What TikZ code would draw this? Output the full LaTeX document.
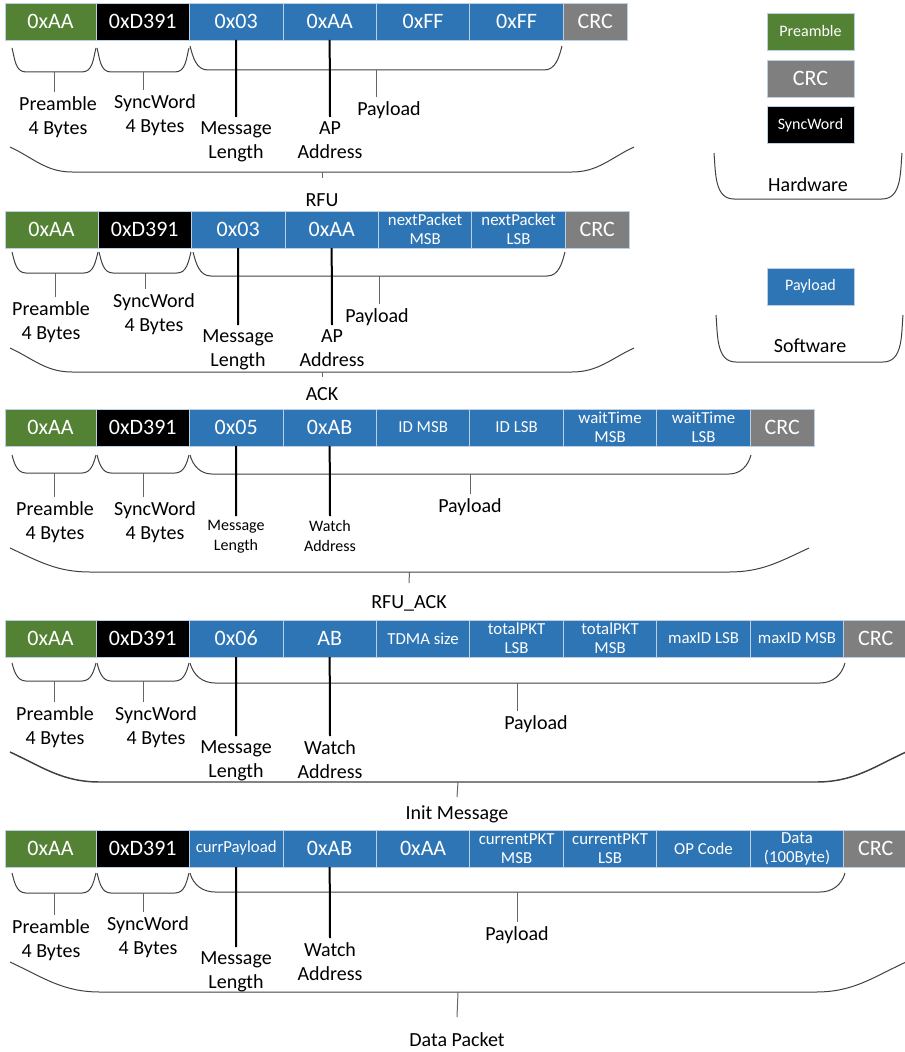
\documentclass[tikz,border=0pt]{standalone}
\usepackage{fontspec}
\setmainfont{Carlito}
\usepackage{xcolor}
\usepackage{tikz}
\usetikzlibrary{positioning}
\definecolor{pregreen}{RGB}{84,130,53}
\definecolor{loadblue}{RGB}{46,117,182}
\definecolor{crcgray}{RGB}{127,127,127}
\definecolor{sepline}{RGB}{189,207,226}
\tikzset{
    field/.style={rectangle, draw=sepline, line width=0.6pt, minimum width=70.1pt, minimum height=27.75pt, inner sep=1pt, outer sep=0pt, text=white, align=center, font=\fontsize{16.5}{18}\selectfont},
    pre/.style={field, fill=pregreen, minimum width=68.25pt},
    sync/.style={field, fill=black},
    load/.style={field, fill=loadblue},
    crc/.style={field, fill=crcgray, minimum width=48pt},
    smalltext/.style={font=\fontsize{12.6}{14.2}\selectfont},
    keybox/.style={field, minimum width=65.25pt},
    keytext/.style={font=\fontsize{12}{14}\selectfont},
    lbl/.style={anchor=north, align=center, inner sep=3pt, font=\fontsize{15}{18}\selectfont},
    sublbl/.style={lbl, font=\fontsize{12}{15}\selectfont},
    rowname/.style={inner sep=1pt, font=\fontsize{15}{18}\selectfont},
    brace/.style={draw=black!75, line width=0.75pt, lcurve/.style={out=-75,in=180}, rcurve/.style={out=0,in=-105}},
    bigbrace/.style={brace, lcurve/.style={out=-25,in=180}, rcurve/.style={out=0,in=-155}},
    sidebrace/.style={brace, lcurve/.style={out=-85,in=180}, rcurve/.style={out=0,in=-95}},
    stub/.style={draw=black!60, line width=0.75pt},
    pointer/.style={draw=black, line width=1.5pt}
}
% brace under a group of fields, names its bottom middle
\newcommand{\fieldbrace}[7][]{%
    \draw[brace,#1] (#2,#4) to[lcurve] ({#2+#6},#5) -- ({#3-#6},#5) to[rcurve] (#3,#4);
    \coordinate (#7) at ({(#2+#3)/2},#5);
}

\begin{document}
\begin{tikzpicture}[x=0.75pt, y=0.75pt]
    \useasboundingbox (0,0) rectangle (904,-1052);

    % RFU packet
    \node[pre, anchor=north west] (r1pre) at (5,-3) {0xAA};
    \node[sync, right=0pt of r1pre] (r1sync) {0xD391};
    \node[load, right=0pt of r1sync] (r1len) {0x03};
    \node[load, right=0pt of r1len] (r1addr) {0xAA};
    \node[load, right=0pt of r1addr] (r1ff) {0xFF};
    \node[load, right=0pt of r1ff] (r1fe) {0xFF};
    \node[crc, right=0pt of r1fe] (r1crc) {CRC};
    \fieldbrace{12}{96}{-48}{-72}{14}{r1pb}
    \fieldbrace{97}{189}{-48}{-72}{14}{r1sb}
    \fieldbrace{190}{562}{-46}{-70}{18}{r1lb}
    \fieldbrace[bigbrace]{10}{634}{-147}{-172}{62}{r1all}
    \node[lbl] (r1prel) at (58,-92) {Preamble\\4 Bytes};
    \node[lbl] (r1syncl) at (155,-90) {SyncWord\\4 Bytes};
    \node[lbl] (r1loadl) at (389,-97) {Payload};
    \node[lbl] (r1lenl) at (236,-117) {Message\\Length};
    \node[lbl] (r1addrl) at (330,-117) {AP\\Address};
    \coordinate (r1end) at (322,-178);
    \node[rowname] (rfu) at (322,-200) {RFU};
    \draw[stub] (r1pb) -- (r1pb |- r1prel.north);
    \draw[stub] (r1sb) -- (r1sb |- r1syncl.north);
    \draw[stub] (r1lb) -- (r1lb |- r1loadl.north);
    \draw[pointer] (r1len.south) -- (r1lenl.north);
    \draw[pointer] (r1addr.south) -- (r1addrl.north);
    \draw[stub] (r1all) -- (r1end);

    % ACK packet
    \node[pre, anchor=north west, minimum width=69.75pt] (r2pre) at (5,-211) {0xAA};
    \node[sync, right=0pt of r2pre] (r2sync) {0xD391};
    \node[load, right=0pt of r2sync] (r2len) {0x03};
    \node[load, right=0pt of r2len] (r2addr) {0xAA};
    \node[load, smalltext, right=0pt of r2addr] (r2nxm) {nextPacket\\MSB};
    \node[load, smalltext, right=0pt of r2nxm] (r2nxl) {nextPacket\\LSB};
    \node[crc, right=0pt of r2nxl] (r2crc) {CRC};
    \fieldbrace{12}{98}{-252}{-273}{14}{r2pb}
    \fieldbrace{99}{191}{-252}{-273}{14}{r2sb}
    \fieldbrace{193}{565}{-252}{-276}{18}{r2lb}
    \fieldbrace[bigbrace]{10}{634}{-348}{-372}{62}{r2all}
    \node[lbl] (r2prel) at (51,-297) {Preamble\\4 Bytes};
    \node[lbl] (r2syncl) at (154,-289) {SyncWord\\4 Bytes};
    \node[lbl] (r2loadl) at (377,-304) {Payload};
    \node[lbl] (r2lenl) at (238,-325) {Message\\Length};
    \node[lbl] (r2addrl) at (332,-325) {AP\\Address};
    \coordinate (r2end) at (322,-377);
    \node[rowname] (ack) at (322,-394) {ACK};
    \draw[stub] (r2pb) -- (r2pb |- r2prel.north);
    \draw[stub] (r2sb) -- (r2sb |- r2syncl.north);
    \draw[stub] (r2lb) -- (r2lb |- r2loadl.north);
    \draw[pointer] (r2len.south) -- (r2lenl.north);
    \draw[pointer] (r2addr.south) -- (r2addrl.north);
    \draw[stub] (r2all) -- (r2end);

    % RFU_ACK packet
    \node[pre, anchor=north west] (r3pre) at (5,-409) {0xAA};
    \node[sync, right=0pt of r3pre] (r3sync) {0xD391};
    \node[load, right=0pt of r3sync] (r3len) {0x05};
    \node[load, right=0pt of r3len] (r3addr) {0xAB};
    \node[load, smalltext, right=0pt of r3addr] (r3idm) {ID MSB};
    \node[load, smalltext, right=0pt of r3idm] (r3idl) {ID LSB};
    \node[load, smalltext, right=0pt of r3idl] (r3wtm) {waitTime\\MSB};
    \node[load, smalltext, right=0pt of r3wtm] (r3wtl) {waitTime\\LSB};
    \node[crc, right=0pt of r3wtl] (r3crc) {CRC};
    \fieldbrace{12}{96}{-455}{-473}{14}{r3pb}
    \fieldbrace{97}{189}{-455}{-473}{14}{r3sb}
    \fieldbrace{190}{751}{-455}{-474}{22}{r3lb}
    \fieldbrace[bigbrace]{10}{809}{-548}{-572}{80}{r3all}
    \node[lbl] (r3prel) at (55,-497) {Preamble\\4 Bytes};
    \node[lbl] (r3syncl) at (155,-497) {SyncWord\\4 Bytes};
    \node[lbl] (r3loadl) at (470,-494) {Payload};
    \node[sublbl] (r3lenl) at (236,-516) {Message\\Length};
    \node[sublbl] (r3addrl) at (330,-516) {Watch\\Address};
    \coordinate (r3end) at (409,-583);
    \node[rowname] (rfuack) at (409,-603) {RFU\_ACK};
    \draw[stub] (r3pb) -- (r3pb |- r3prel.north);
    \draw[stub] (r3sb) -- (r3sb |- r3syncl.north);
    \draw[stub] (r3lb) -- (r3lb |- r3loadl.north);
    \draw[pointer] (r3len.south) -- (r3lenl.north);
    \draw[pointer] (r3addr.south) -- (r3addrl.north);
    \draw[stub] (r3all) -- (r3end);

    % Init Message packet
    \node[pre, anchor=north west] (r4pre) at (5,-620) {0xAA};
    \node[sync, right=0pt of r4pre] (r4sync) {0xD391};
    \node[load, right=0pt of r4sync] (r4len) {0x06};
    \node[load, right=0pt of r4len] (r4addr) {AB};
    \node[load, smalltext, right=0pt of r4addr] (r4tdma) {TDMA size};
    \node[load, smalltext, right=0pt of r4tdma] (r4tpl) {totalPKT\\LSB};
    \node[load, smalltext, right=0pt of r4tpl] (r4tpm) {totalPKT\\MSB};
    \node[load, smalltext, right=0pt of r4tpm] (r4mil) {maxID LSB};
    \node[load, smalltext, right=0pt of r4mil] (r4mim) {maxID MSB};
    \node[crc, right=0pt of r4mim] (r4crc) {CRC};
    \fieldbrace{12}{96}{-663}{-681}{14}{r4pb}
    \fieldbrace{97}{189}{-663}{-681}{14}{r4sb}
    \fieldbrace{190}{845}{-663}{-683}{25}{r4lb}
    \fieldbrace[bigbrace, line width=1.1pt]{10}{906}{-752}{-782}{90}{r4all}
    \node[lbl] (r4prel) at (55,-702) {Preamble\\4 Bytes};
    \node[lbl] (r4syncl) at (156,-702) {SyncWord\\4 Bytes};
    \node[lbl] (r4loadl) at (536,-711) {Payload};
    \node[lbl] (r4lenl) at (236,-736) {Message\\Length};
    \node[lbl] (r4addrl) at (330,-736) {Watch\\Address};
    \coordinate (r4end) at (457,-797);
    \node[rowname] (init) at (457,-814) {Init Message};
    \draw[stub] (r4pb) -- (r4pb |- r4prel.north);
    \draw[stub] (r4sb) -- (r4sb |- r4syncl.north);
    \draw[stub] (r4lb) -- (r4lb |- r4loadl.north);
    \draw[pointer] (r4len.south) -- (r4lenl.north);
    \draw[pointer] (r4addr.south) -- (r4addrl.north);
    \draw[stub] (r4all) -- (r4end);

    % Data Packet
    \node[pre, anchor=north west] (r5pre) at (5,-830) {0xAA};
    \node[sync, right=0pt of r5pre] (r5sync) {0xD391};
    \node[load, smalltext, right=0pt of r5sync] (r5len) {currPayload};
    \node[load, right=0pt of r5len] (r5addr) {0xAB};
    \node[load, right=0pt of r5addr] (r5ap) {0xAA};
    \node[load, smalltext, right=0pt of r5ap] (r5cpm) {currentPKT\\MSB};
    \node[load, smalltext, right=0pt of r5cpm] (r5cpl) {currentPKT\\LSB};
    \node[load, smalltext, right=0pt of r5cpl] (r5op) {OP Code};
    \node[load, smalltext, right=0pt of r5op] (r5dat) {Data\\(100Byte)};
    \node[crc, right=0pt of r5dat] (r5crc) {CRC};
    \fieldbrace{12}{96}{-873}{-893}{14}{r5pb}
    \fieldbrace{97}{189}{-873}{-893}{14}{r5sb}
    \fieldbrace{190}{845}{-873}{-892}{25}{r5lb}
    \fieldbrace[bigbrace]{10}{906}{-962}{-992}{90}{r5all}
    \node[lbl] (r5prel) at (51,-915) {Preamble\\4 Bytes};
    \node[lbl] (r5syncl) at (148,-912) {SyncWord\\4 Bytes};
    \node[lbl] (r5loadl) at (517,-922) {Payload};
    \node[lbl] (r5lenl) at (236,-947) {Message\\Length};
    \node[lbl] (r5addrl) at (330,-938) {Watch\\Address};
    \coordinate (r5end) at (457,-1017);
    \node[rowname] (data) at (457,-1040) {Data Packet};
    \draw[stub] (r5pb) -- (r5pb |- r5prel.north);
    \draw[stub] (r5sb) -- (r5sb |- r5syncl.north);
    \draw[stub] (r5lb) -- (r5lb |- r5loadl.north);
    \draw[pointer] (r5len.south) -- (r5lenl.north);
    \draw[pointer] (r5addr.south) -- (r5addrl.north);
    \draw[stub] (r5all) -- (r5end);

    % Legend
    \node[keybox, fill=pregreen, keytext] (kpre) at (810.5,-31.5) {Preamble};
    \node[keybox, fill=crcgray, below=7.5pt of kpre] (kcrc) {CRC};
    \node[keybox, fill=black, keytext, below=7pt of kcrc] (ksync) {SyncWord};
    \fieldbrace[sidebrace]{714}{902}{-153}{-199}{20}{hw}
    \node[rowname] (hwl) at (808,-185) {Hardware};
    \node[keybox, fill=loadblue, keytext] (kload) at (810.5,-286.5) {Payload};
    \fieldbrace[sidebrace]{716}{903}{-315}{-362}{20}{sw}
    \node[rowname] (swl) at (810,-346) {Software};
\end{tikzpicture}
\end{document}
